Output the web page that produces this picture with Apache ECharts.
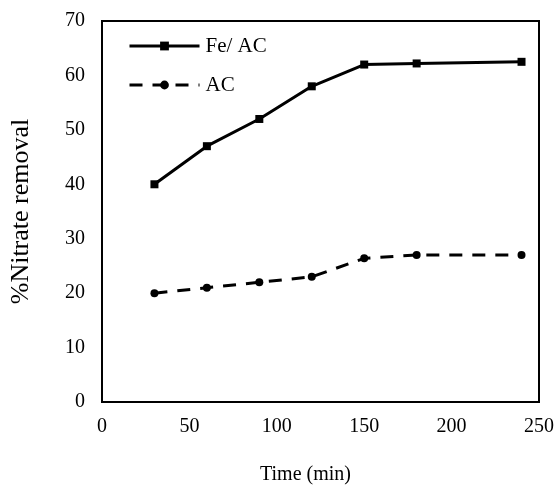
<!DOCTYPE html>
<html><head><meta charset="utf-8">
<script src="https://cdn.jsdelivr.net/npm/echarts@6/dist/echarts.min.js"></script>
<style>html,body{margin:0;padding:0;background:#fff}#c{width:557px;height:490px}</style>
</head><body><div id="c"></div>
<script>
const times = [30, 60, 90, 120, 150, 180, 240];
const feAC = [40, 47, 52, 58, 62, 62.2, 62.5];
const ac = [20, 21, 22, 23, 26.4, 27, 27];
const seriesNames = ['Fe/ AC', 'AC'];
const xTitle = 'Time (min)';
const yTitle = '%Nitrate removal';

const font = 'Liberation Serif, Times New Roman, serif';
const legendBase = {
  orient: 'vertical', left: 128, padding: 0, itemWidth: 70, itemHeight: 11,
  lineStyle: {width: 3, color: '#000', type: 'inherit'},
  textStyle: {fontFamily: font, fontSize: 21, color: '#000', lineHeight: 22, padding: [0, 0, 0, 1]}
};
const chart = echarts.init(document.getElementById('c'));
chart.setOption({
  animation: false,
  backgroundColor: '#fff',
  grid: {left: 102, right: 18, top: 21, bottom: 82, show: true, borderColor: '#000', borderWidth: 2},
  legend: [
    Object.assign({}, legendBase, {top: 35, data: [seriesNames[0]]}),
    Object.assign({}, legendBase, {top: 74, data: [seriesNames[1]]})
  ],
  xAxis: {
    type: 'value', min: 0, max: 250, interval: 50,
    name: xTitle, nameLocation: 'middle', nameGap: 63,
    nameTextStyle: {fontFamily: font, fontSize: 20, color: '#000', padding: [0, 30, 0, 0]},
    axisLine: {show: true, lineStyle: {color: '#000', width: 2}},
    axisTick: {show: false}, splitLine: {show: false},
    axisLabel: {fontFamily: font, fontSize: 20, color: '#000', margin: 15}
  },
  yAxis: {
    type: 'value', min: 0, max: 70, interval: 10,
    name: yTitle, nameLocation: 'middle', nameGap: 68,
    nameTextStyle: {fontFamily: font, fontSize: 26, color: '#000'},
    axisLine: {show: true, lineStyle: {color: '#000', width: 2}},
    axisTick: {show: false}, splitLine: {show: false},
    axisLabel: {fontFamily: font, fontSize: 20, color: '#000', margin: 17}
  },
  series: [
    {name: seriesNames[0], type: 'line', data: times.map((t, i) => [t, feAC[i]]),
     symbol: 'rect', symbolSize: 8, itemStyle: {color: '#000'},
     lineStyle: {color: '#000', width: 3}},
    {name: seriesNames[1], type: 'line', data: times.map((t, i) => [t, ac[i]]),
     symbol: 'circle', symbolSize: 8, itemStyle: {color: '#000'},
     lineStyle: {color: '#000', width: 3, type: [13, 10]}}
  ]
});
</script></body></html>
